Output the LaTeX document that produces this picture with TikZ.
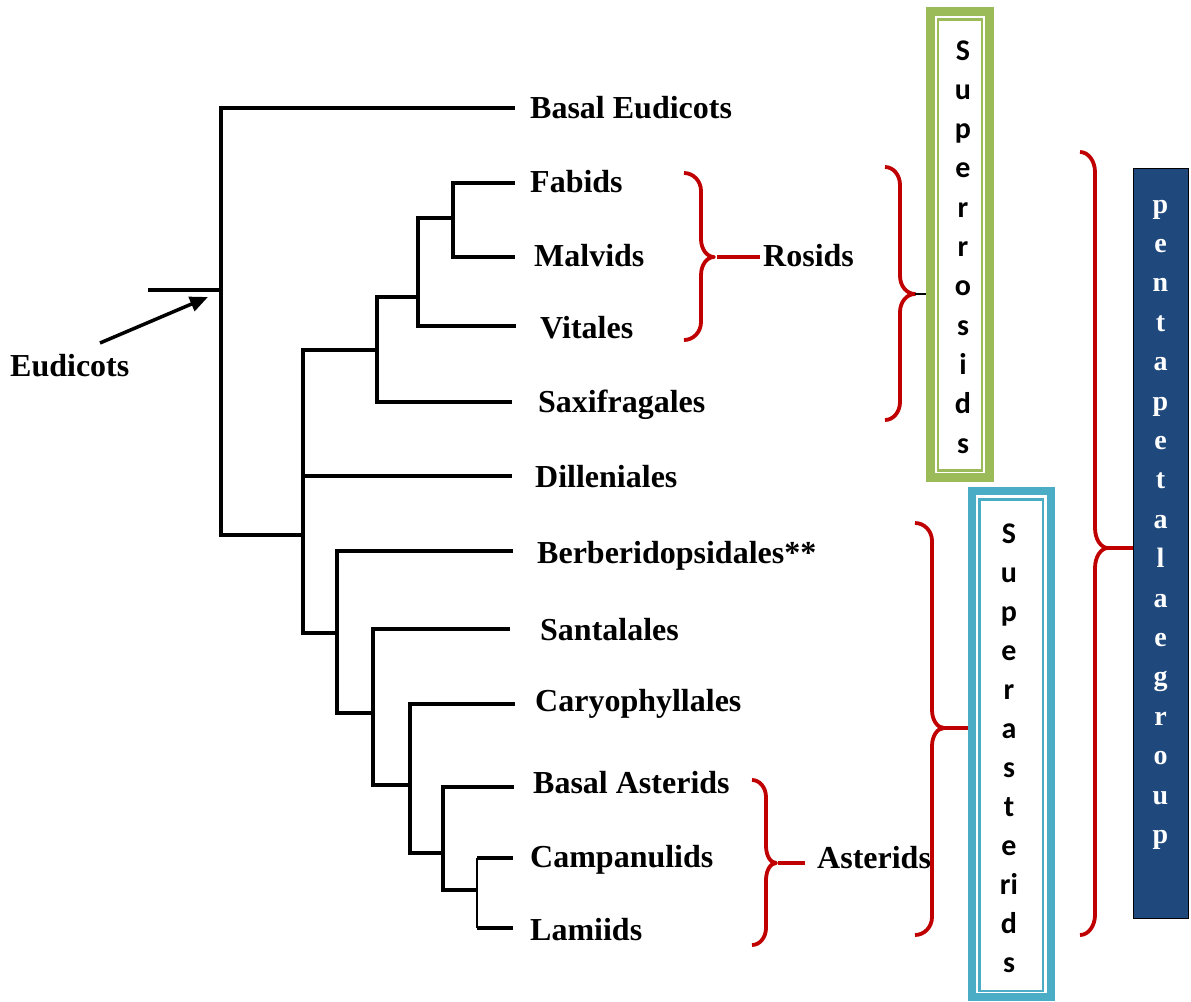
\documentclass[tikz,border=0pt]{standalone}
\usepackage{fontspec}
\setmainfont{Liberation Serif}
\newfontfamily\calfont{Carlito}
\usetikzlibrary{arrows.meta}

\definecolor{braceRed}{HTML}{C00000}
\definecolor{rosGreen}{HTML}{9BBB59}
\definecolor{astBlue}{HTML}{4BACC6}
\definecolor{penBlue}{HTML}{1F497D}

% right curly brace: #1 left end x, #2 spine x, #3 tip x,
% #4 top y, #5 tip y, #6 bottom y, #7 corner radius, #8 tip coordinate name
\newcommand\cladebrace[8]{%
  \draw[bracestyle] (#1,#4)
    .. controls ({#1+0.552*(#2-#1)},#4) and (#2,{#4+0.448*#7}) .. (#2,#4+#7)
    -- (#2,#5-#7)
    .. controls (#2,{#5-0.448*#7}) and ({#3-0.552*(#3-#2)},#5) .. (#3,#5)
    .. controls ({#3-0.552*(#3-#2)},#5) and (#2,{#5+0.448*#7}) .. (#2,#5+#7)
    -- (#2,#6-#7)
    .. controls (#2,{#6-0.448*#7}) and ({#1+0.552*(#2-#1)},#6) .. (#1,#6);
  \coordinate (#8) at (#3,#5);}

\begin{document}
\begin{tikzpicture}[x=1pt,y=-1pt,
  br/.style={line width=3.3pt, black},
  bracestyle/.style={line width=3.8pt, braceRed, line join=round},
  leaf/.style={anchor=base west, inner sep=0pt, font=\fontsize{32}{38}\selectfont\bfseries},
  srletter/.style={anchor=base, inner sep=0pt, font=\calfont\fontsize{30}{36}\selectfont\bfseries},
  pletter/.style={anchor=base, inner sep=0pt, text=white, font=\fontsize{28}{34}\selectfont\bfseries}]

\useasboundingbox (0,0) rectangle (1191,1001);

% ---- tree coordinates: leaf line ends and internal nodes ----
\coordinate (tBE)  at (515,108);
\coordinate (tFab) at (515,183);
\coordinate (tMal) at (515,257);
\coordinate (tVit) at (516,326);
\coordinate (tSax) at (512,402);
\coordinate (tDil) at (512,476);
\coordinate (tBer) at (513,551);
\coordinate (tSan) at (510,629);
\coordinate (tCar) at (515,704);
\coordinate (tBA)  at (514,787);
\coordinate (tCam) at (513,858);
\coordinate (tLam) at (513,928);

\coordinate (root) at (221,290);
\coordinate (stem) at (148,290);
\coordinate (nFM)  at (453,218);
\coordinate (nFMV) at (418,297);
\coordinate (nRos) at (377,350);
\coordinate (nCore) at (303,535);
\coordinate (nSA)  at (337,633);
\coordinate (nSC)  at (373,713);
\coordinate (nCR)  at (410,785);
\coordinate (nAs)  at (443,853);
\coordinate (nCL)  at (477,890);

% ---- branches ----
\draw[br] (stem) -- (root);
\draw[br] (tBE) -| (root) |- (nCore);
\draw[br] (tFab) -| (nFM) |- (tMal);
\draw[br] (nFM) -| (nFMV) |- (tVit);
\draw[br] (nFMV) -| (nRos) |- (tSax);
\draw[br] (nRos) -| (nCore) |- (nSA);
\draw[br] (nCore |- tDil) -- (tDil);
\draw[br] (tBer) -| (nSA) |- (nSC);
\draw[br] (tSan) -| (nSC) |- (nCR);
\draw[br] (tCar) -| (nCR) |- (nAs);
\draw[br] (tBA) -| (nAs) |- (nCL);
\draw[line width=2.2pt] (nCL |- tCam) -- (nCL |- tLam);
\draw[br] (nCL |- tCam) -- (tCam);
\draw[br] (nCL |- tLam) -- (tLam);

% ---- leaf labels ----
\node[leaf] (lbBE)  at (530,118.5) {Basal Eudicots};
\node[leaf] (lbFab) at (530,192.5) {Fabids};
\node[leaf] (lbMal) at (534,266.5) {Malvids};
\node[leaf] (lbVit) at (540,338.5) {Vitales};
\node[leaf] (lbSax) at (538,412) {Saxifragales};
\node[leaf] (lbDil) at (535,487.5) {Dilleniales};
\node[leaf] (lbBer) at (537,563) {Berberidopsidales**};
\node[leaf] (lbSan) at (540,640) {Santalales};
\node[leaf] (lbCar) at (535,711) {Caryophyllales};
\node[leaf] (lbBA)  at (533,793.5) {Basal Asterids};
\node[leaf] (lbCam) at (530,867) {Campanulids};
\node[leaf] (lbLam) at (530,940) {Lamiids};

% ---- Eudicots pointer ----
\node[leaf] (lbEud) at (10,376) {Eudicots};
\coordinate (arrTail) at (100,343);
\coordinate (arrTip)  at (208,297);
\draw[line width=3.5pt, -{Triangle[length=18pt,width=15pt]}] (arrTail) -- (arrTip);

% ---- Rosids and Asterids ----
\node[leaf] (lbRos) at (763,266.5) {Rosids};
\node[leaf] (lbAst) at (817,868.5) {Asterids};
\cladebrace{684}{701}{714}{173}{257}{340}{18}{rosTip}
\draw[bracestyle] ([xshift=3pt]rosTip) -- ([xshift=-3pt]lbRos.west |- rosTip);
\cladebrace{752}{766}{776}{780}{863}{945}{17}{astTip}
\draw[bracestyle] ([xshift=2pt]astTip) -- ([xshift=-12pt]lbAst.west |- astTip);

% ---- Superrosids box ----
\node[draw=rosGreen, line width=8.5pt, minimum width=59pt, minimum height=466pt,
      inner sep=0pt] (srOuter) at (960,244.5) {};
\node[draw=rosGreen, line width=2.5pt, minimum width=44pt, minimum height=451pt,
      inner sep=0pt] (srInner) at (960,245) {};
\foreach \ch [count=\i from 0] in {S,u,p,e,r,r,o,s,i,d,s}
  \node[srletter] (sr\i) at (963,60+39.3*\i) {\ch};
\cladebrace{885}{900}{915}{167}{294}{420}{18}{srTip}
\draw[line width=1.5pt, black] (srTip) -- (srOuter.west |- srTip);

% ---- Superasterids box ----
\node[draw=astBlue, line width=8.5pt, minimum width=79pt, minimum height=506pt,
      inner sep=0pt] (saOuter) at (1011.5,744) {};
\node[draw=astBlue, line width=2.5pt, minimum width=63.5pt, minimum height=491.5pt,
      inner sep=0pt] (saInner) at (1011.25,745.25) {};
\foreach \ch [count=\i from 0] in {S,u,p,e,r,a,s,t,e,ri,d,s}
  \node[srletter] (sa\i) at (1009,543+39*\i) {\ch};
\cladebrace{915}{932}{944}{523}{728}{935}{18}{saTip}
\draw[bracestyle] (saTip) -- (saOuter.west |- saTip);

% ---- Pentapetalae box ----
\node[draw=black, fill=penBlue, line width=1pt, minimum width=55pt, minimum height=750pt,
      inner sep=0pt] (pBox) at (1160.5,543) {};
\foreach \ch [count=\i from 0] in {p,e,n,t,a,p,e,t,a,l,a,e,g,r,o,u,p}
  \node[pletter] (pp\i) at (1160.5,213+39.4*\i) {\ch};
\cladebrace{1080}{1095}{1108}{152}{548}{935}{20}{pTip}
\draw[bracestyle] (pTip) -- (pBox.west |- pTip);

\end{tikzpicture}
\end{document}
